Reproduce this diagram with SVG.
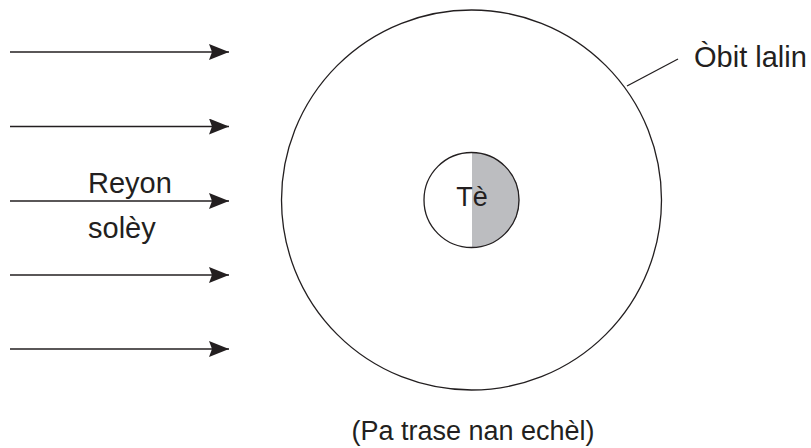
<svg xmlns="http://www.w3.org/2000/svg" width="811" height="448" viewBox="0 0 811 448">
<style>
.t{font-family:"Liberation Sans",Arial,sans-serif;fill:#231f20}
.ray{stroke:#231f20;stroke-width:1.5;fill:none}
.c{stroke:#231f20;stroke-width:1.3}
</style>
<defs>
<marker id="ah" viewBox="0 0 20 16" refX="20" refY="8" markerWidth="20" markerHeight="16" markerUnits="userSpaceOnUse" orient="auto">
<path d="M0,0 L20,8 L0,16 L3,8 Z" fill="#231f20"/>
</marker>
</defs>
<rect width="811" height="448" fill="#fff"/>
<g id="connectors">
<line class="ray" x1="10" y1="52" x2="229" y2="52" marker-end="url(#ah)"/>
<line class="ray" x1="10" y1="126.5" x2="229" y2="126.5" marker-end="url(#ah)"/>
<line class="ray" x1="10" y1="201" x2="229" y2="201" marker-end="url(#ah)"/>
<line class="ray" x1="10" y1="275" x2="229" y2="275" marker-end="url(#ah)"/>
<line class="ray" x1="10" y1="349" x2="229" y2="349" marker-end="url(#ah)"/>
<line x1="627" y1="86" x2="678" y2="59" stroke="#231f20" stroke-width="1.3"/>
</g>
<g id="orbit">
<circle class="c" cx="471.5" cy="200" r="190" fill="none"/>
</g>
<g id="earth">
<circle cx="471.5" cy="200" r="47.5" fill="#fff"/>
<path d="M472,152.5 A47.5,47.5 0 0 1 472,247.5 Z" fill="#bcbdc0"/>
<circle class="c" cx="471.5" cy="200" r="47.5" fill="none"/>
<text class="t" x="472" y="206" font-size="27" text-anchor="middle">Tè</text>
</g>
<g id="labels">
<text class="t" x="88" y="193" font-size="29">Reyon</text>
<text class="t" x="88" y="238" font-size="29">solèy</text>
<text class="t" x="694" y="67" font-size="29">Òbit lalin</text>
<text class="t" x="473" y="440" font-size="27" text-anchor="middle">(Pa trase nan echèl)</text>
</g>
</svg>
